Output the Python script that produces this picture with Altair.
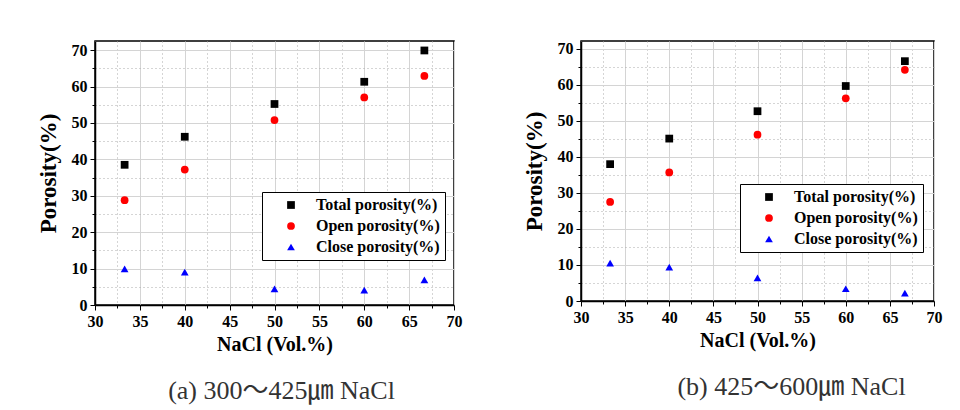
import altair as alt
import pandas as pd

# ---- data ----
nacl = [33.3, 40, 50, 60, 66.7]
total_a = [38.5, 46.2, 55.2, 61.3, 69.9]
open_a = [28.8, 37.2, 50.8, 57.0, 62.9]
close_a = [9.9, 9.0, 4.4, 4.1, 6.9]
total_b = [38.0, 45.1, 52.7, 59.7, 66.6]
open_b = [27.5, 35.7, 46.2, 56.3, 64.2]
close_b = [10.5, 9.4, 6.4, 3.4, 2.2]
series = ["Total porosity(%)", "Open porosity(%)", "Close porosity(%)"]
colors = ["#000000", "#ff0000", "#0000ff"]
shapes = ["square", "circle", "triangle-up"]
marker_sizes = [60, 60, 85]
x_ticks = [30, 32.5, 35, 37.5, 40, 42.5, 45, 47.5, 50, 52.5, 55, 57.5, 60, 62.5, 65, 67.5, 70]
y_ticks = [0, 5, 10, 15, 20, 25, 30, 35, 40, 45, 50, 55, 60, 65, 70]
captions = ["(a) 300\uff5e425\u339b NaCl", "(b) 425\uff5e600\u339b NaCl"]
x_title = "NaCl (Vol.%)"
y_title = "Porosity(%)"

SERIF = "Liberation Serif"
CAP_FONT = "'Liberation Serif', 'Noto Sans CJK KR', serif"


def long_df(tot, opn, cls):
    rows = []
    for name, vals in zip(series, [tot, opn, cls]):
        for x, v in zip(nacl, vals):
            rows.append({"nacl": x, "porosity": v, "series": name})
    return pd.DataFrame(rows)


def axis(values, step, title, title_size, title_pad):
    minor = f"datum.value % {step} != 0"
    return alt.Axis(
        values=values,
        labelExpr=f"datum.value % {step} == 0 ? datum.label : ''",
        title=title,
        titleFont=SERIF, titleFontSize=title_size, titleFontWeight="bold", titleColor="black",
        titlePadding=title_pad,
        labelFont=SERIF, labelFontSize=16, labelFontWeight="bold", labelColor="black",
        labelPadding=3, labelFlush=False, labelOverlap=False,
        tickColor="black",
        tickSize={"condition": {"test": minor, "value": 3}, "value": 5},
        domainColor="black", domainWidth=1.5,
        grid=True, gridWidth=1,
        gridColor={"condition": {"test": minor, "value": "#aaaaaa"}, "value": "#d4d4d4"},
        gridDash={"condition": {"test": minor, "value": [1, 3]}, "value": []},
    )


def panel(tot, opn, cls, caption, w, h, ymax, legx, legy, cap_dx):
    df = long_df(tot, opn, cls)
    legend = alt.Legend(
        title=None, orient="none", legendX=legx, legendY=legy,
        strokeColor="black", fillColor="white", padding=5,
        labelFont=SERIF, labelFontSize=16, labelFontWeight="bold", labelColor="black",
        labelOffset=17, symbolOffset=16, rowPadding=5, symbolSize=55,
        symbolStrokeWidth=0,
    )
    return alt.Chart(df).mark_point(filled=True, opacity=1).encode(
        x=alt.X("nacl:Q", scale=alt.Scale(domain=[30, 70], nice=False),
                axis=axis(x_ticks, 5, x_title, 20, 5)),
        y=alt.Y("porosity:Q", scale=alt.Scale(domain=[0, ymax], nice=False, zero=True),
                axis=axis(y_ticks, 10, y_title, 23, 11)),
        color=alt.Color("series:N", scale=alt.Scale(domain=series, range=colors), legend=legend),
        shape=alt.Shape("series:N", scale=alt.Scale(domain=series, range=shapes), legend=legend),
        size=alt.Size("series:N", scale=alt.Scale(domain=series, range=marker_sizes), legend=None),
    ).properties(
        width=w, height=h,
        title=alt.TitleParams(
            caption, orient="bottom", anchor="middle", dx=cap_dx, offset=24,
            font=CAP_FONT, fontSize=26, fontWeight="normal", color="#333333",
        ),
    )


left = panel(total_a, open_a, close_a, captions[0], 359, 264, 72.5, 167, 151, 7)
right = panel(total_b, open_b, close_b, captions[1], 353, 260, 72.2, 159, 143, 34)

chart = alt.hconcat(left, right, spacing=127, bounds="flush").resolve_scale(
    color="independent", shape="independent", size="independent"
).properties(
    padding={"left": 36, "top": 40, "right": 5, "bottom": 5},
    background="white",
).configure_view(
    stroke="black", strokeWidth=1.5
)

chart.save("out.html", embed_options={"renderer": "svg", "actions": False})
